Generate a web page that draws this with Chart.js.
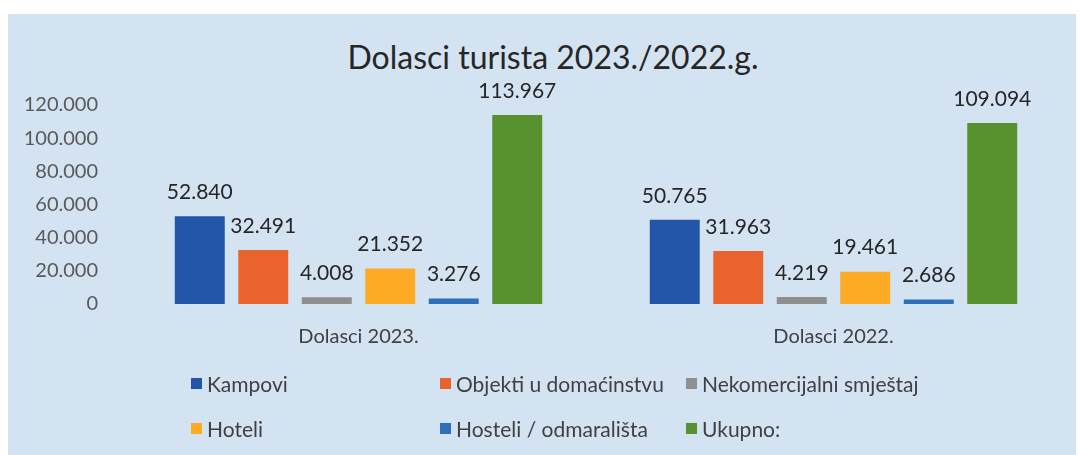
<!DOCTYPE html>
<html>
<head>
<meta charset="utf-8">
<script src="https://cdn.jsdelivr.net/npm/chart.js@4.4.0/dist/chart.umd.min.js"></script>
<style>
  body { margin: 0; background: #ffffff; font-family: Lato, sans-serif; }
  #wrap { position: relative; width: 1086px; height: 455px; overflow: hidden; }
  #panel { position: absolute; left: 8px; top: 14px; width: 1068px; height: 441px; background: #d4e3f1; }
  #title { position: absolute; left: 0; width: 1106px; top: 36px; text-align: center;
           font-size: 32px; color: #262626; line-height: 42px; }
  #chart { position: absolute; left: 0; top: 0; }
  #legend { position: absolute; left: 191px; top: 372px; display: grid;
            grid-template-columns: 249px 246px 260px; row-gap: 23px; }
  .item { display: flex; align-items: center; font-size: 21px; color: #404040; height: 22px; white-space: nowrap; }
  .box { width: 11px; height: 11px; margin-right: 5px; }
</style>
</head>
<body>
<div id="wrap">
  <div id="panel"></div>
  <div id="title">Dolasci turista 2023./2022.g.</div>
  <canvas id="chart" width="1086" height="455"></canvas>
  <div id="legend"></div>
</div>
<script>
const categories = ["Dolasci 2023.", "Dolasci 2022."];
const seriesNames = ["Kampovi", "Objekti u domaćinstvu", "Nekomercijalni smještaj", "Hoteli", "Hosteli / odmarališta", "Ukupno:"];
const kampovi = [52840, 50765];
const objekti = [32491, 31963];
const nekomercijalni = [4008, 4219];
const hoteli = [21352, 19461];
const hosteli = [3276, 2686];
const ukupno = [113967, 109094];
const yMax = 120000;
const yStep = 20000;
const colors = ["#2356a8", "#e8632e", "#8f8f8f", "#fdab24", "#2d6fba", "#58922f"];

const seriesValues = [kampovi, objekti, nekomercijalni, hoteli, hosteli, ukupno];

function fmt(v) {
  return String(v).replace(/\B(?=(\d{3})+(?!\d))/g, ".");
}

const valueLabels = {
  id: "valueLabels",
  afterDatasetsDraw(chart) {
    const ctx = chart.ctx;
    ctx.save();
    ctx.font = "21px Lato";
    ctx.fillStyle = "#262626";
    ctx.textAlign = "center";
    ctx.textBaseline = "middle";
    chart.data.datasets.forEach((ds, i) => {
      chart.getDatasetMeta(i).data.forEach((bar, j) => {
        ctx.fillText(fmt(ds.data[j]), bar.x, bar.y - 24);
      });
    });
    ctx.restore();
  }
};

const chart = new Chart(document.getElementById("chart"), {
  type: "bar",
  data: {
    labels: categories,
    datasets: seriesNames.map((name, i) => ({
      label: name,
      data: seriesValues[i],
      backgroundColor: colors[i],
      categoryPercentage: 0.802,
      barPercentage: 0.787
    }))
  },
  options: {
    responsive: false,
    animation: false,
    layout: { padding: { left: 0, right: 15, top: 105, bottom: 101 } },
    plugins: {
      legend: { display: false },
      tooltip: { enabled: false }
    },
    scales: {
      x: {
        grid: { display: false },
        border: { display: false },
        ticks: { padding: 13, color: "#404040", font: { family: "Lato", size: 20 } },
        afterFit: (s) => { s.height = 50; }
      },
      y: {
        min: 0,
        max: yMax,
        grid: { display: false },
        border: { display: false },
        ticks: {
          stepSize: yStep,
          padding: 15,
          color: "#595959",
          font: { family: "Lato", size: 20 },
          callback: (v) => fmt(v)
        },
        afterFit: (s) => { s.width = 121; }
      }
    }
  },
  plugins: [valueLabels]
});

const legend = document.getElementById("legend");
seriesNames.forEach((name, i) => {
  const item = document.createElement("div");
  item.className = "item";
  item.innerHTML = '<span class="box" style="background:' + colors[i] + '"></span>' + name;
  legend.appendChild(item);
});
</script>
</body>
</html>
